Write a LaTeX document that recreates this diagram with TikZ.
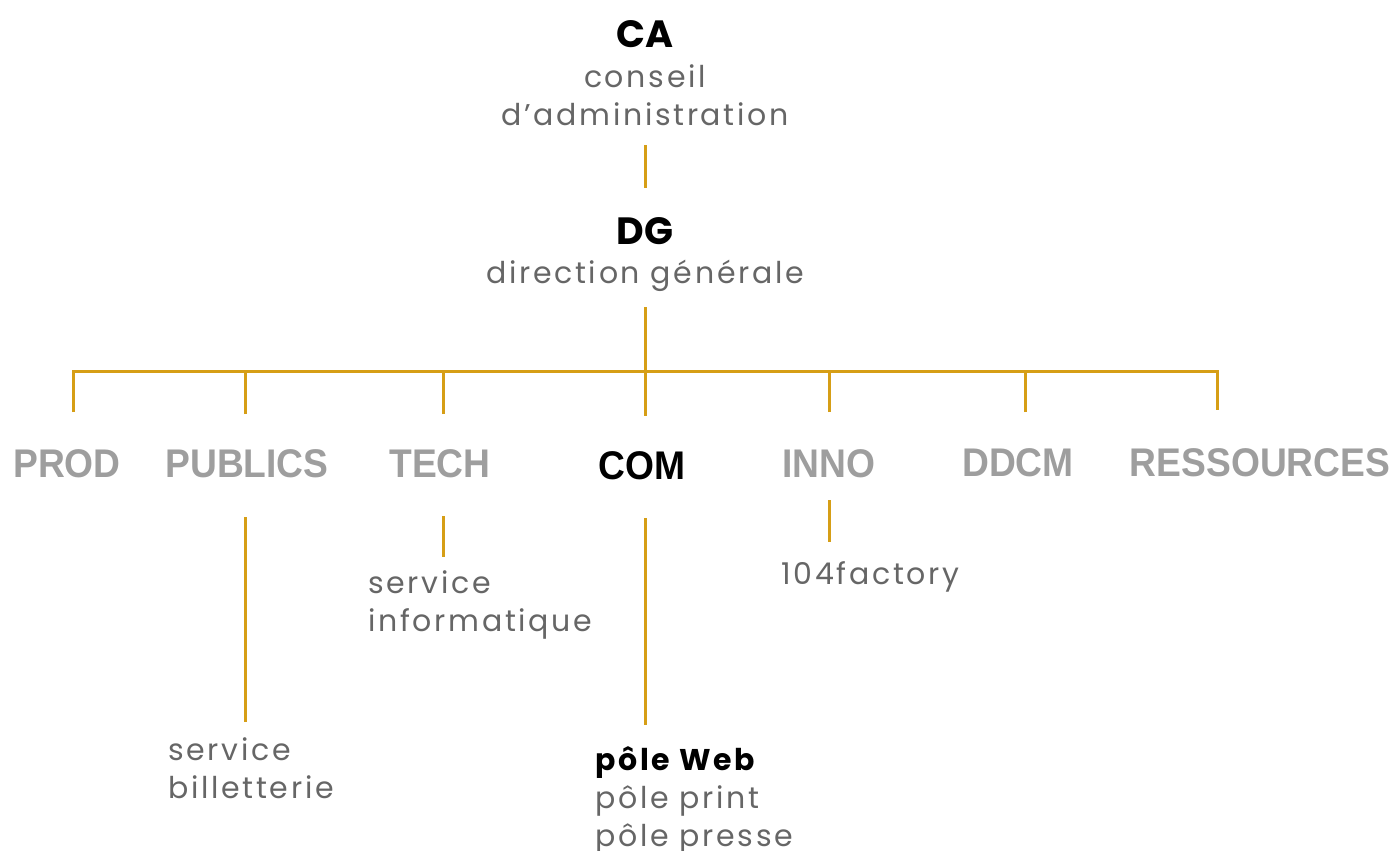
\documentclass[tikz,border=0pt]{standalone}
\usepackage{fontspec}
\setmainfont{Poppins}[LetterSpace=9]
\newfontfamily\headfont{Poppins}
\newfontfamily\deptfont[FakeStretch=0.93]{Liberation Sans}
\usetikzlibrary{positioning}
\definecolor{gold}{RGB}{214,158,22}
\definecolor{textgrey}{RGB}{102,102,102}
\definecolor{deptgrey}{RGB}{158,158,158}

\begin{document}
\begin{tikzpicture}[x=1pt, y=-1pt,
        link/.style={draw=gold, line width=3pt},
        head/.style={anchor=base, inner sep=0pt, font=\headfont\bfseries\fontsize{38}{40}\selectfont},
        desc/.style={anchor=base, inner sep=0pt, text=textgrey, align=center, font=\fontsize{30}{38}\selectfont},
        dept/.style={anchor=base, inner sep=0pt, text=deptgrey, font=\deptfont\bfseries\fontsize{40}{40}\selectfont},
        unit/.style={anchor=base west, inner sep=0pt, text=textgrey, align=left, font=\fontsize{30}{38}\selectfont}]
    \useasboundingbox (0,0) rectangle (1390,851);

                % Draw the top of the chart
                \node[head] (ca) at (645,48) {CA};
                \node[desc] (caname) at (645,125) {conseil\\d’administration};
                \node[head] (dg) at (645,244) {DG};
                \node[desc] (dgname) at (645,283) {direction générale};

                % Draw the departments
                \node[dept] (prod) at (67,477) {PROD};
                \node[dept] (publics) at (247,477) {PUBLICS};
                \node[dept] (tech) at (440,477) {TECH};
                \node[dept, text=black] (com) at (642,479) {COM};
                \node[dept] (inno) at (829,477) {INNO};
                \node[dept] (ddcm) at (1018,476) {DDCM};
                \node[dept] (ressources) at (1260,476) {RESSOURCES};

                % Draw the services
                \node[unit] (billet) at (168,798) {service\\billetterie};
                \node[unit] (info) at (368,631) {service\\informatique};
                \node[unit] (poles) at (595,846) {\textcolor{black}{\bfseries pôle Web}\\pôle print\\pôle presse};
                \node[unit] (factory) at (781,584) {104factory};

                % Line ends
                \coordinate (ca-low) at (645,145);
                \coordinate (dg-up) at (645,188);
                \coordinate (dg-low) at (645,307);
                \coordinate (bar) at (645,371);
                \coordinate (prod-up) at (73,412);
                \coordinate (publics-up) at (245,414);
                \coordinate (tech-up) at (443,414);
                \coordinate (com-up) at (645,416);
                \coordinate (inno-up) at (829,412);
                \coordinate (ddcm-up) at (1025,412);
                \coordinate (ressources-up) at (1217,410);
                \coordinate (publics-low) at (245,517);
                \coordinate (billet-up) at (245,722);
                \coordinate (tech-low) at (443,516);
                \coordinate (info-up) at (443,557);
                \coordinate (com-low) at (645,518);
                \coordinate (poles-up) at (645,725);
                \coordinate (inno-low) at (829,500);
                \coordinate (factory-up) at (829,542);

                % Draw the connectors
                \draw[link] (ca-low) -- (dg-up);
                \draw[link] (dg-low) -- (com-up);
                \draw[link] (prod-up) |- (bar) -| (ressources-up);
                \draw[link] (publics-up) -- (publics-up |- bar);
                \draw[link] (tech-up) -- (tech-up |- bar);
                \draw[link] (inno-up) -- (inno-up |- bar);
                \draw[link] (ddcm-up) -- (ddcm-up |- bar);
                \draw[link] (publics-low) -- (billet-up);
                \draw[link] (tech-low) -- (info-up);
                \draw[link] (com-low) -- (poles-up);
                \draw[link] (inno-low) -- (factory-up);
\end{tikzpicture}
\end{document}
